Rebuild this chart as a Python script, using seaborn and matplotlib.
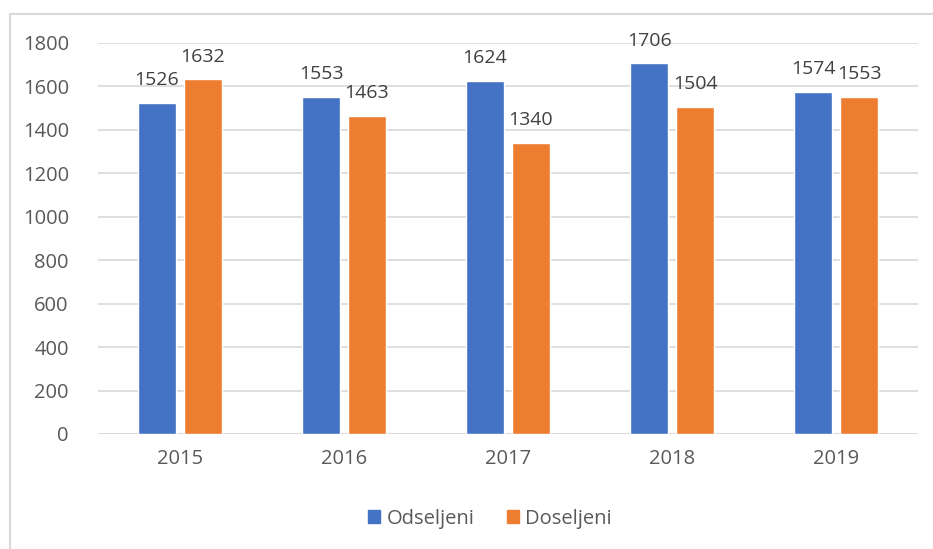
import matplotlib
matplotlib.use("Agg")
import matplotlib.pyplot as plt
import seaborn as sns
import pandas as pd
from matplotlib.patches import Rectangle, Patch

years = ["2015", "2016", "2017", "2018", "2019"]
odseljeni = [1526, 1553, 1624, 1706, 1574]
doseljeni = [1632, 1463, 1340, 1504, 1553]
series_names = ["Odseljeni", "Doseljeni"]
yticks = [0, 200, 400, 600, 800, 1000, 1200, 1400, 1600, 1800]

df = pd.DataFrame({
    "year": years * 2,
    "value": odseljeni + doseljeni,
    "series": [series_names[0]] * len(years) + [series_names[1]] * len(years),
})

sns.set_theme(style="white")
plt.rcParams['font.family'] = ['Open Sans', 'DejaVu Sans']

colors = ["#4472C4", "#ED7D31"]
txt = "#595959"

fig = plt.figure(figsize=(9.33, 5.49), dpi=100)
ax = fig.add_axes([0.105, 0.2095, 0.879, 0.7122])

sns.barplot(data=df, x="year", y="value", hue="series", palette=colors,
            width=0.56, gap=0.18, ax=ax, legend=False, saturation=1)

ax.set_ylim(0, 1800)
ax.set_yticks(yticks)
ax.set_xlim(-0.5, len(years) - 0.5)
ax.grid(axis="y", color="#d9d9d9", linewidth=1.2)
ax.set_axisbelow(True)
for s in ax.spines.values():
    s.set_visible(False)
ax.axhline(0, color="#d9d9d9", linewidth=1.2, zorder=0.5)
ax.set_xlabel("")
ax.set_ylabel("")
ax.tick_params(axis="both", length=0, labelsize=14.5, colors=txt)
ax.tick_params(axis="y", pad=21)
ax.tick_params(axis="x", pad=11)

for cont in ax.containers:
    ax.bar_label(cont, fmt="%d", fontsize=14, color="#404040", padding=10)

handles = [Patch(color=c, label=n) for c, n in zip(colors, series_names)]
fig.legend(handles=handles, loc="center", bbox_to_anchor=(0.525, 0.055), ncol=2,
           frameon=False, fontsize=14.5, labelcolor=txt, handlelength=0.6,
           handleheight=0.6, handletextpad=0.3, columnspacing=1.6)

fig.patches.append(Rectangle((10 / 933, -0.1), 1.2, 1 - 14 / 549 + 0.1,
                             transform=fig.transFigure, fill=False,
                             edgecolor="#d9d9d9", linewidth=1.5))

fig.savefig("out.png", dpi=100)
